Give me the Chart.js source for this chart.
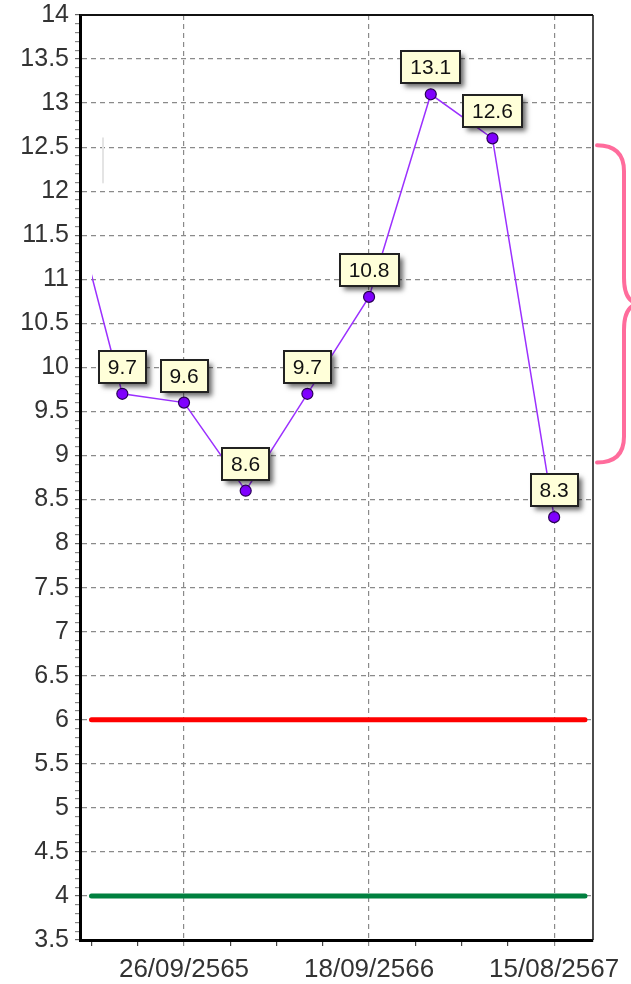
<!DOCTYPE html>
<html>
<head>
<meta charset="utf-8">
<script src="https://cdn.jsdelivr.net/npm/chart.js@4.4.1/dist/chart.umd.min.js"></script>
<style>
  html, body { margin: 0; padding: 0; background: #fff; }
  #wrap { width: 631px; height: 984px; }
</style>
</head>
<body>
<div id="wrap"><canvas id="myChart" width="631" height="984"></canvas></div>
<script>
// sample positions on the x axis (-1 is the reading just before the window)
const samplePos = [-1, 0, 1, 2, 3, 4, 5, 6, 7];
const readings = [12.4, 9.7, 9.6, 8.6, 9.7, 10.8, 13.1, 12.6, 8.3];

// dated ticks on the x axis
const datePos = [1, 4, 7];
const dateLabels = ['26/09/2565', '18/09/2566', '15/08/2567'];

// limit lines
const highLimit = 6;
const lowLimit = 4;

// y range, labelled every 0.5 with minor ticks every 0.1
const yMin = 3.5;
const yMax = 14;

const tickFont = '"Liberation Sans", Arial, sans-serif';

function isDate(v) {
    return datePos.some(d => Math.abs(d - v) < 1e-6);
}
function isMajorY(v) {
    return Math.round(v * 10) % 5 === 0;
}

// limit lines run from half a step before the first sample to half a step after the last
const firstPos = 0, lastPos = samplePos[samplePos.length - 1];
const limitX = [firstPos - 0.5, lastPos + 0.5];

// frame on top and right of the plot
const framePlugin = {
    id: 'frame',
    beforeDatasetsDraw(chart) {
        const {ctx, chartArea: a} = chart;
        ctx.save();
        ctx.strokeStyle = '#111';
        ctx.lineWidth = 2;
        ctx.beginPath();
        ctx.moveTo(a.left, a.top);
        ctx.lineTo(a.right, a.top);
        ctx.stroke();
        ctx.lineWidth = 1.5;
        ctx.beginPath();
        ctx.moveTo(a.right, a.top);
        ctx.lineTo(a.right, a.bottom);
        ctx.stroke();
        ctx.restore();
    }
};

// yellow value boxes above each point
const boxPlugin = {
    id: 'valueBoxes',
    afterDatasetsDraw(chart) {
        const ctx = chart.ctx;
        const idx = chart.data.datasets.findIndex(d => d.label === 'value');
        const meta = chart.getDatasetMeta(idx);
        ctx.save();
        ctx.font = '21px ' + tickFont;
        ctx.textAlign = 'center';
        ctx.textBaseline = 'middle';
        meta.data.forEach((pt, i) => {
            if (samplePos[i] < 0) return;
            const text = readings[i].toFixed(1);
            const w = Math.round(ctx.measureText(text).width + 18);
            const h = 32;
            const x = Math.round(pt.x - w / 2);
            const y = Math.round(pt.y - 27 - h / 2);
            ctx.save();
            ctx.shadowColor = 'rgba(0,0,0,0.6)';
            ctx.shadowBlur = 5;
            ctx.shadowOffsetX = 4;
            ctx.shadowOffsetY = 4;
            ctx.fillStyle = '#ffffd9';
            ctx.fillRect(x, y, w, h);
            ctx.restore();
            ctx.strokeStyle = '#222';
            ctx.lineWidth = 2;
            ctx.strokeRect(x, y, w, h);
            ctx.fillStyle = '#111';
            ctx.fillText(text, pt.x, y + h / 2 + 1);
        });
        ctx.restore();
    }
};

// pink curly brace right of the plot, and the faint grey mark at upper left
const bracePlugin = {
    id: 'brace',
    afterDraw(chart) {
        const {ctx, chartArea: a, scales} = chart;
        const top = scales.y.getPixelForValue(12.5) - 2;
        const bot = scales.y.getPixelForValue(8.92);
        const mid = (top + bot) / 2;
        const x0 = a.right + 4, x1 = a.right + 31, x2 = a.right + 48;
        const r = 26;
        ctx.save();
        ctx.strokeStyle = '#ff6c9c';
        ctx.lineWidth = 4;
        ctx.lineCap = 'round';
        ctx.beginPath();
        ctx.moveTo(x0, top);
        ctx.quadraticCurveTo(x1, top, x1, top + r);
        ctx.lineTo(x1, mid - r);
        ctx.quadraticCurveTo(x1, mid, x2, mid);
        ctx.moveTo(x2, mid);
        ctx.quadraticCurveTo(x1, mid, x1, mid + r);
        ctx.lineTo(x1, bot - r);
        ctx.quadraticCurveTo(x1, bot, x0, bot);
        ctx.stroke();

        ctx.strokeStyle = '#e4e4e4';
        ctx.lineWidth = 2;
        ctx.beginPath();
        ctx.moveTo(a.left + 23, scales.y.getPixelForValue(12.6));
        ctx.lineTo(a.left + 23, scales.y.getPixelForValue(12.1));
        ctx.stroke();
        ctx.restore();
    }
};

const chartCanvas = document.getElementById('myChart').getContext('2d');

new Chart(chartCanvas, {
    type: 'line',
    data: {
        datasets: [
            {
                label: 'value',
                data: samplePos.map((x, i) => ({x: x, y: readings[i]})),
                borderColor: '#9b30ff',
                borderWidth: 1.5,
                tension: 0,
                pointRadius: ctx => samplePos[ctx.dataIndex] < 0 ? 0 : 5.5,
                pointBackgroundColor: '#8000ff',
                pointBorderColor: '#2a0058',
                pointBorderWidth: 1.2,
                clip: {left: -12, top: 8, right: 0, bottom: 0}
            },
            {
                label: 'high',
                data: limitX.map(x => ({x: x, y: highLimit})),
                borderColor: '#ff0000',
                borderWidth: 5,
                borderCapStyle: 'round',
                pointRadius: 0,
                clip: false
            },
            {
                label: 'low',
                data: limitX.map(x => ({x: x, y: lowLimit})),
                borderColor: '#00803f',
                borderWidth: 5,
                borderCapStyle: 'round',
                pointRadius: 0,
                clip: false
            }
        ]
    },
    options: {
        responsive: false,
        animation: false,
        events: [],
        layout: { padding: { top: 15, right: 38, left: 0, bottom: 0 } },
        plugins: {
            legend: { display: false },
            tooltip: { enabled: false }
        },
        scales: {
            x: {
                type: 'linear',
                min: -0.686,
                max: 7.63,
                afterBuildTicks(scale) {
                    const t = [];
                    for (let v = -0.5; v <= scale.max + 1e-6; v += 0.75) t.push({value: v});
                    scale.ticks = t;
                },
                afterFit(scale) {
                    scale.height = 44;
                    scale.paddingLeft = 0;
                    scale.paddingRight = 0;
                },
                ticks: {
                    autoSkip: false,
                    maxRotation: 0,
                    padding: 8,
                    color: '#333',
                    font: { family: tickFont, size: 26 },
                    callback(v) {
                        const k = datePos.findIndex(d => Math.abs(d - v) < 1e-6);
                        return k >= 0 ? dateLabels[k] : '';
                    }
                },
                grid: {
                    color: ctx => ctx.tick && isDate(ctx.tick.value) ? '#8a8a8a' : 'rgba(0,0,0,0)',
                    tickColor: ctx => ctx.tick && isDate(ctx.tick.value) ? '#8a8a8a' : '#444',
                    tickLength: 6,
                    lineWidth: 1.2
                },
                border: { color: '#000', width: 3, dash: [5, 4] }
            },
            y: {
                type: 'linear',
                min: yMin,
                max: yMax,
                afterBuildTicks(scale) {
                    const t = [];
                    for (let k = Math.round(yMin * 10); k <= Math.round(yMax * 10); k++) t.push({value: k / 10});
                    scale.ticks = t;
                },
                afterFit(scale) {
                    scale.width = 80;
                    scale.paddingTop = 0;
                    scale.paddingBottom = 0;
                },
                ticks: {
                    autoSkip: false,
                    padding: 6,
                    color: '#333',
                    font: { family: tickFont, size: 25 },
                    callback(v) {
                        return isMajorY(v) ? String(Math.round(v * 10) / 10) : '';
                    }
                },
                grid: {
                    color: ctx => ctx.tick && isMajorY(ctx.tick.value) ? '#8a8a8a' : 'rgba(0,0,0,0)',
                    tickColor: ctx => ctx.tick && isMajorY(ctx.tick.value) ? '#666' : '#888',
                    tickLength: 5,
                    lineWidth: 1.2
                },
                border: { color: '#000', width: 3, dash: [5, 4] }
            }
        }
    },
    plugins: [framePlugin, boxPlugin, bracePlugin]
});
</script>
</body>
</html>
